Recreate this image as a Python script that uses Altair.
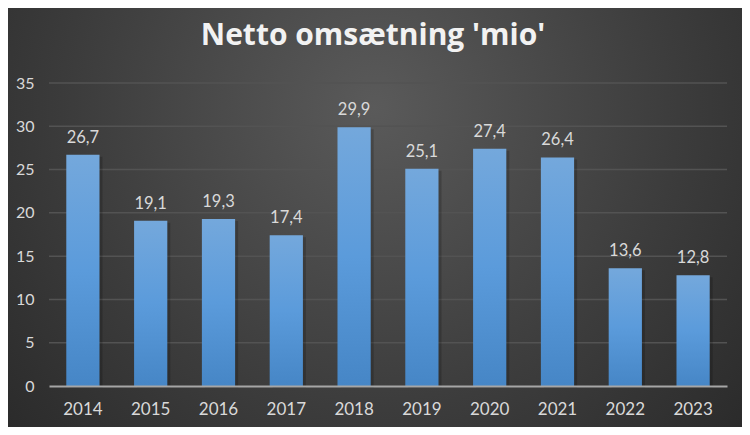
import altair as alt
import pandas as pd

years = ["2014", "2015", "2016", "2017", "2018", "2019", "2020", "2021", "2022", "2023"]
values = [26.7, 19.1, 19.3, 17.4, 29.9, 25.1, 27.4, 26.4, 13.6, 12.8]
labels = [f"{v:.1f}".replace(".", ",") for v in values]
y_ticks = [0, 5, 10, 15, 20, 25, 30, 35]
title_text = "Netto omsætning 'mio'"

df = pd.DataFrame({"year": years, "value": values, "label": labels})
grid_df = pd.DataFrame({"tick": y_ticks[1:]})

W, H = 678, 303
PL, PT, PR, PB = 41, 75, 15, 41

bg = alt.Chart(alt.Data(values=[{"a": 1}])).mark_rect(
    fill=alt.Gradient(
        gradient="radial",
        stops=[alt.GradientStop(color="#5a5a5a", offset=0),
               alt.GradientStop(color="#3c3c3c", offset=0.55),
               alt.GradientStop(color="#252525", offset=1)],
        x1=0.5, y1=0.35, r1=0, x2=0.5, y2=0.35, r2=0.75,
    ),
).encode(
    x=alt.value(-PL), x2=alt.value(W + PR), y=alt.value(-PT), y2=alt.value(H + PB)
)

y_scale = alt.Scale(domain=[0, 35], nice=False)

grid = alt.Chart(grid_df).mark_rule(color="#535353", strokeWidth=1.5).encode(
    y=alt.Y("tick:Q", scale=y_scale, title=None),
    x=alt.value(0), x2=alt.value(W),
)

x_enc = alt.X("year:N", sort=years, title=None,
              scale=alt.Scale(paddingInner=0.51, paddingOuter=0.255),
              axis=alt.Axis(labelAngle=0, labelAlign="center", bandPosition=0.5,
                            ticks=False, domainColor="#a6a6a6", domainWidth=2,
                            labelColor="#d9d9d9", labelFont="Lato", labelFontSize=17,
                            labelPadding=23, grid=False, zindex=2))
y_enc = alt.Y("value:Q", title=None, scale=y_scale,
              axis=alt.Axis(values=y_ticks, domain=False, ticks=False, grid=False,
                            labelColor="#d9d9d9", labelFont="Lato",
                            labelFontSize=16, labelPadding=15, zindex=2))

shadow = alt.Chart(df).mark_bar(color="#000000", opacity=0.18, xOffset=3, yOffset=2).encode(
    x=alt.X("year:N", sort=years, title=None), y=alt.Y("value:Q", title=None)
)

bars = alt.Chart(df).mark_bar(
    fill=alt.Gradient(
        gradient="linear",
        stops=[alt.GradientStop(color="#74a8dc", offset=0),
               alt.GradientStop(color="#5b9bdb", offset=0.5),
               alt.GradientStop(color="#4686c6", offset=1)],
        x1=0, y1=0, x2=0, y2=1,
    )
).encode(x=x_enc, y=y_enc)

text = alt.Chart(df).mark_text(
    baseline="bottom", dy=-9, color="#d9d9d9", font="Lato", fontSize=16.5
).encode(x=alt.X("year:N", sort=years), y=alt.Y("value:Q"), text="label:N")

title = alt.Chart(alt.Data(values=[{"t": title_text}])).mark_text(
    font="Open Sans", fontWeight="bold", fontSize=30, color="#f2f2f2",
    align="center", baseline="middle"
).encode(x=alt.value(373 - 8 - PL), y=alt.value(36 - 8 - PT), text="t:N")

chart = alt.layer(bg, grid, shadow, bars, text, title).properties(
    width=W, height=H,
    autosize=alt.AutoSizeParams(type="none"),
    padding={"left": PL, "top": PT, "right": PR, "bottom": PB},
    background="#262626",
).configure_view(stroke=None)

chart.save("out.html", embed_options={"renderer": "svg", "actions": False})
